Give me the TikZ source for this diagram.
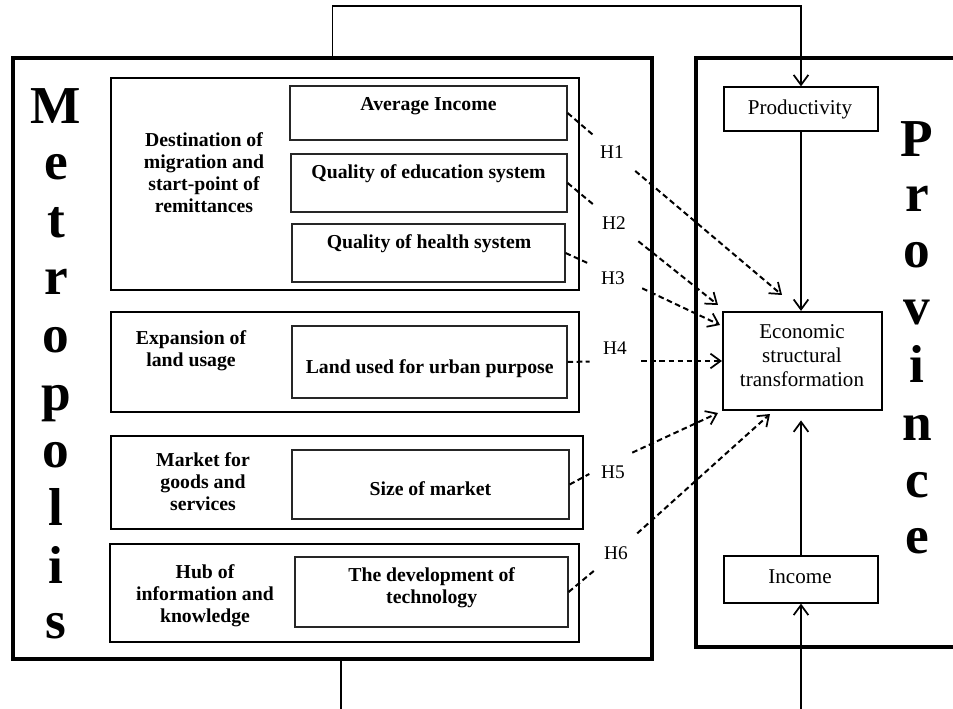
\documentclass[tikz,border=0pt]{standalone}
\usepackage{fontspec}
\setmainfont{Liberation Serif}
\usetikzlibrary{arrows.meta}
\begin{document}
\begin{tikzpicture}[x=0.75pt,y=-0.75pt,
  outerbox/.style={draw,line width=2.4pt,inner sep=0pt},
  grpbox/.style={draw,line width=1.6pt,inner sep=0pt},
  ibox/.style={draw=black!85,line width=0.9pt,inner sep=0pt},
  pbox/.style={draw,line width=0.9pt,inner sep=0pt},
  ecobox/.style={draw,line width=1.6pt,inner sep=0pt},
  btext/.style={font=\fontsize{14.8}{16.4}\selectfont\bfseries,align=center,inner sep=0pt,anchor=base},
  rtext/.style={font=\fontsize{15.8}{17.9}\selectfont,align=center,inner sep=0pt,anchor=base},
  big/.style={font=\fontsize{40}{40}\selectfont\bfseries,inner sep=0pt,anchor=base},
  hgap/.style={circle,inner sep=0pt,draw=none},
  hlab/.style={font=\fontsize{14.5}{16}\selectfont,inner sep=0pt},
  tip/.style={-{Straight Barb[length=7.5pt,width=11pt,line width=1.3pt]}},
  conn/.style={line width=1.4pt},
  hyp/.style={line width=1.5pt,dash pattern=on 4.2pt off 2.6pt}
]
\useasboundingbox (0,0) rectangle (953,709);

% main containers
\node[outerbox,minimum width=479.25pt,minimum height=450.75pt] (metro) at (332.5,358.5) {};
\node[outerbox,minimum width=228pt,minimum height=441.75pt] (prov) at (848,352.5) {};

% big vertical words
\foreach \l/\y [count=\i] in {M/124,e/180,t/238,r/295,o/353,p/410,o/467,l/525,i/583,s/638}
  \node[big] (m\i) at (56,\y) {\l};
\foreach \l/\y [count=\i] in {P/157,r/212,o/268,v/325,i/382,n/440,c/497,e/553}
  \node[big] (p\i) at (917,\y) {\l};

% group boxes
\node[grpbox,minimum width=351pt,minimum height=159pt] (g1) at (345,184) {};
\node[grpbox,minimum width=351pt,minimum height=75pt] (g2) at (345,362) {};
\node[grpbox,minimum width=354pt,minimum height=69.75pt] (g3) at (347,482.5) {};
\node[grpbox,minimum width=351.75pt,minimum height=73.5pt] (g4) at (344.5,593) {};

% multi-line nodes: anchor base = baseline of the last line
\node[btext] (g1t) at (204,212.3) {Destination of\\migration and\\start-point of\\remittances};
\node[btext] (g2t) at (191,366) {Expansion of\\land usage};
\node[btext] (g3t) at (203,510.7) {Market for\\goods and\\services};
\node[btext] (g4t) at (205,622.3) {Hub of\\information and\\knowledge};

% inner boxes
\node[ibox,minimum width=207.75pt,minimum height=40.5pt] (avg) at (428.5,113) {};
\node[ibox,minimum width=207pt,minimum height=43.5pt] (edu) at (429,183) {};
\node[ibox,minimum width=204.75pt,minimum height=43.5pt] (hea) at (428.5,253) {};
\node[ibox,minimum width=206.25pt,minimum height=54pt] (land) at (429.5,362) {};
\node[ibox,minimum width=207.75pt,minimum height=51.75pt] (size) at (430.5,484.5) {};
\node[ibox,minimum width=204.75pt,minimum height=52.5pt] (tech) at (431.5,592) {};

\node[btext] (avgt) at (428.5,110.7) {Average Income};
\node[btext] (edut) at (428.5,178.3) {Quality of education system};
\node[btext] (heat) at (429,248.3) {Quality of health system};
\node[btext] (landt) at (429.7,373.3) {Land used for urban purpose};
\node[btext] (sizet) at (430.4,495) {Size of market};
\node[btext] (techt) at (431.7,603.3) {The development of\\technology};

% province boxes
\node[pbox,minimum width=115.5pt,minimum height=33pt] (prod) at (801,109) {};
\node[ecobox,minimum width=119.25pt,minimum height=73.5pt] (eco) at (802.5,361) {};
\node[pbox,minimum width=115.5pt,minimum height=35.25pt] (inc) at (801,579.5) {};
\node[rtext] (prodt) at (800,115) {Productivity};
\node[rtext] (ecot) at (802,386) {Economic\\structural\\transformation};
\node[rtext] (inct) at (800,583.3) {Income};

% solid connectors
\draw[conn,tip] (metro.north) -- ++(0,-50) -| (prod.north);
\draw[conn,tip] (prod.south) -- (prod.south |- eco.north);
\draw[conn,tip,shorten >=7pt] (inc.north) -- (inc.north |- eco.south);
\coordinate (bl) at (341,712);
\coordinate (br) at (801,712);
\draw[conn] (metro.south -| bl) -- (bl);
\draw[conn,tip] (br) -- (inc.south);

% hypothesis gaps and labels
\node[hgap,minimum size=41.3pt] (h1) at (614,153) {};
\node[hgap,minimum size=43.5pt] (h2) at (615.5,223) {};
\node[hgap,minimum size=44.7pt] (h3) at (615,275.5) {};
\node[hgap,minimum size=38.3pt] (h4) at (615.5,361) {};
\node[hgap,minimum size=35.6pt] (h5) at (610.5,462.7) {};
\node[hgap,minimum size=41.4pt] (h6) at (616.5,552) {};
\node[hlab] (h1t) at (612,152) {H1};
\node[hlab] (h2t) at (614,223) {H2};
\node[hlab] (h3t) at (613,278) {H3};
\node[hlab] (h4t) at (615,348) {H4};
\node[hlab] (h5t) at (613,472) {H5};
\node[hlab] (h6t) at (616,553) {H6};

\coordinate (t1) at (782,295);
\coordinate (t2) at (718,305);
\coordinate (t3) at (720,325);
\coordinate (t5) at (718,413);
\coordinate (t6) at (770,414);

\draw[hyp] (avg.east) -- (h1);
\draw[hyp,tip] (h1) -- (t1);
\draw[hyp] (edu.east) -- (h2);
\draw[hyp,tip] (h2) -- (t2);
\draw[hyp] (hea.east) -- (h3);
\draw[hyp,tip] (h3) -- (t3);
\draw[hyp] (land.east) -- (h4);
\draw[hyp,tip] (h4) -- (eco.west);
\draw[hyp] (size.east) -- (h5);
\draw[hyp,tip] (h5) -- (t5);
\draw[hyp] (tech.east) -- (h6);
\draw[hyp,tip] (h6) -- (t6);
\end{tikzpicture}
\end{document}
